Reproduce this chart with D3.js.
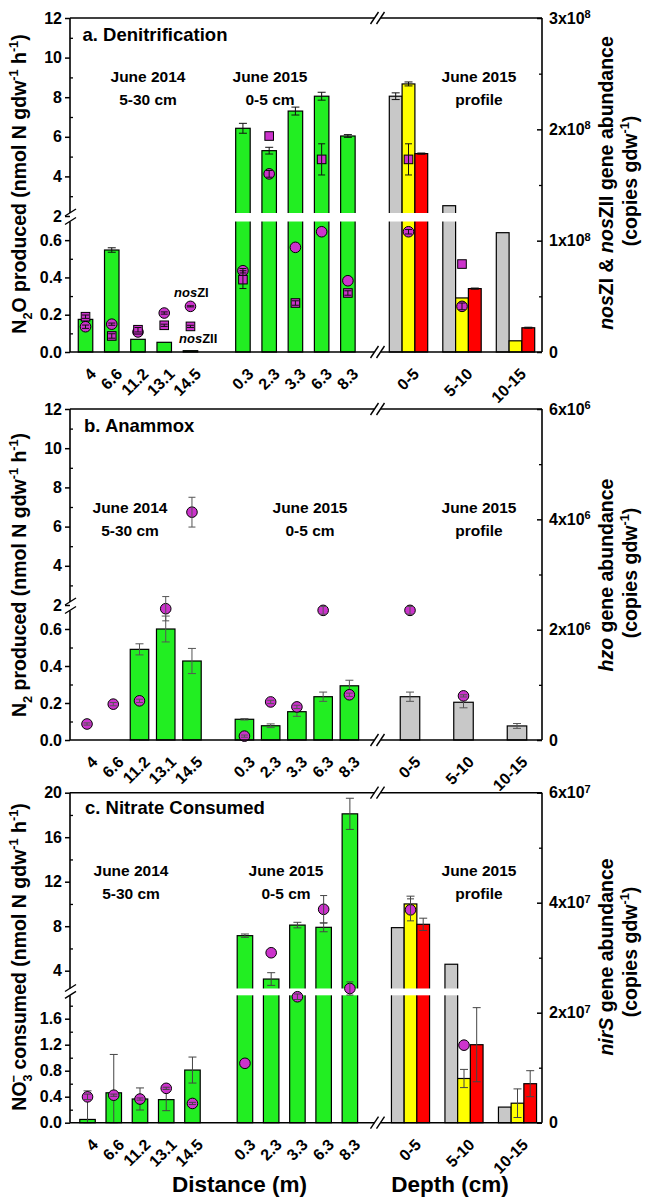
<!DOCTYPE html>
<html>
<head>
<meta charset="utf-8">
<script src="https://cdn.jsdelivr.net/npm/d3@7"></script>
<style>
body { margin: 0; background: #fff; }
svg text { font-family: Arial, "Liberation Sans", sans-serif; font-weight: bold; }
</style>
</head>
<body>
<div id="chart"></div>
<script>
// categories
var distance = ["4", "6.6", "11.2", "13.1", "14.5", "0.3", "2.3", "3.3", "6.3", "8.3"];
var slots = ["4", "6.6", "11.2", "13.1", "14.5", " ", "0.3", "2.3", "3.3", "6.3", "8.3"];
var depth = ["0-5", "5-10", "10-15"];

// a. Denitrification (N2O, nmol N gdw-1 h-1)
var denitRate = [0.175, 0.547, 0.068, 0.052, 0.007, 6.43, 5.3, 7.3, 8.05, 6.04];
var denitErr = [0.008, 0.012, 0, 0, 0, 0.25, 0.17, 0.2, 0.2, 0.07];
var denitGray = [8.05, 2.52, 0.64], denitGrayErr = [0.17, 0, 0];
var denitYellow = [8.67, 0.29, 0.06], denitYellowErr = [0.1, 0, 0];
var denitRed = [5.15, 0.34, 0.13], denitRedErr = [0.03, 0.003, 0.003];
// nosZI (circles) / nosZII (squares), copies gdw-1
var nosZI = [0.227e8, 0.25e8, 0.18e8, 0.35e8, 0.41e8, 0.73e8, 1.6e8, 0.94e8, 1.08e8, 0.64e8];
var nosZIErr = [0.015e8, 0.01e8, 0.01e8, 0.01e8, 0.005e8, 0.02e8, 0.03e8, 0, 0, 0];
var nosZIProf = [1.08e8, 0.41e8, null], nosZIProfErr = [0.02e8, 0.03e8, 0];
var nosZII = [0.317e8, 0.144e8, 0.2e8, 0.24e8, 0.23e8, 0.65e8, 1.94e8, 0.44e8, 1.73e8, 0.53e8];
var nosZIIErr = [0.015e8, 0.02e8, 0.02e8, 0.01e8, 0.01e8, 0.08e8, 0, 0.02e8, 0.14e8, 0.02e8];
var nosZIIProf = [1.73e8, 0.79e8, null], nosZIIProfErr = [0.14e8, 0, 0];

// b. Anammox (N2)
var anamRate = [null, null, 0.49, 0.6, 0.427, 0.112, 0.077, 0.153, 0.234, 0.293];
var anamErr = [0, 0, 0.03, 0.07, 0.068, 0.004, 0.01, 0.025, 0.025, 0.03];
var anamGray = [0.234, 0.204, 0.076], anamGrayErr = [0.025, 0.03, 0.013];
var hzo = [0.29e6, 0.65e6, 0.71e6, 2.38e6, 4.13e6, 0.07e6, 0.69e6, 0.6e6, 2.35e6, 0.82e6];
var hzoErr = [0.02e6, 0.03e6, 0.03e6, 0.22e6, 0.27e6, 0.02e6, 0.03e6, 0.03e6, 0.07e6, 0.03e6];
var hzoProf = [2.35e6, 0.8e6, null], hzoProfErr = [0.07e6, 0.02e6, 0];

// c. Nitrate consumed
var nitRate = [0.05, 0.46, 0.365, 0.355, 0.81, 7.15, 3.25, 8.1, 7.9, 18.1];
var nitErr = [0.44, 0.59, 0.17, 0.17, 0.2, 0.15, 0.57, 0.25, 0.4, 1.4];
var nitGray = [7.87, 4.58, 0.24], nitGrayErr = [0, 0, 0];
var nitYellow = [10.0, 0.68, 0.3], nitYellowErr = [0.7, 0.14, 0.22];
var nitRed = [8.17, 1.2, 0.6], nitRedErr = [0.55, 0.57, 0.2];
var nirS = [0.47e7, 0.5e7, 0.43e7, 0.625e7, 0.35e7, 1.08e7, 3.09e7, 2.29e7, 3.88e7, 2.44e7];
var nirSErr = [0.05e7, 0.02e7, 0.02e7, 0.02e7, 0.02e7, 0, 0, 0.05e7, 0.25e7, 0.12e7];
var nirSProf = [3.87e7, 1.41e7, null], nirSProfErr = [0.2e7, 0, 0];

// tick values
var ticksA = [0, 0.2, 0.4, 0.6, 2, 4, 6, 8, 10, 12], minorA = [0.1, 0.3, 0.5, 3, 5, 7, 9, 11];
var ticksC = [0, 0.4, 0.8, 1.2, 1.6, 4, 8, 12, 16, 20], minorC = [0.2, 0.6, 1.0, 1.4, 1.8, 6, 10, 14, 18];
var rTicksA = [0, 1e8, 2e8, 3e8], rMinorA = [0.5e8, 1.5e8, 2.5e8];
var rTicksB = [0, 2e6, 4e6, 6e6], rMinorB = [1e6, 3e6, 5e6];
var rTicksC = [0, 2e7, 4e7, 6e7], rMinorC = [1e7, 3e7, 5e7];

var green = "#22ee22", gray = "#c8c8c8", yellow = "#ffff00", red = "#ff0000", purple = "#cc33cc";

var W = 646, H = 1198, xLeft = 70, xRight = 542, breakX = 377.5;

var svg = d3.select("#chart").append("svg").attr("width", W).attr("height", H);

var xDist = d3.scaleBand().domain(slots).range([72.4, 361]);
var xDepth = d3.scaleBand().domain(depth).range([381.75, 542.25]);

// write text with sub/superscripts and italics
function richText(t, parts, size) {
  var shift = 0;
  parts.forEach(function(p) {
    var ts = t.append("tspan").text(p[0]);
    var target = 0;
    if (p[1] == "sub") target = size * 0.3;
    if (p[1] == "sup") target = -size * 0.42;
    ts.attr("dy", target - shift);
    shift = target;
    if (p[1] == "sub" || p[1] == "sup") ts.attr("font-size", size * 0.65);
    if (p[1] == "i") ts.attr("font-style", "italic");
    if (p[2]) ts.attr("dx", p[2]);
  });
}

function errBar(g, x, yTop, yBot, color, cap) {
  g.append("line").attr("x1", x).attr("x2", x).attr("y1", yTop).attr("y2", yBot)
    .attr("stroke", color).attr("stroke-width", 1);
  [yTop, yBot].forEach(function(yy) {
    g.append("line").attr("x1", x - cap / 2).attr("x2", x + cap / 2).attr("y1", yy).attr("y2", yy)
      .attr("stroke", color).attr("stroke-width", 1);
  });
}

function slash(g, x, y) {
  g.append("line").attr("x1", x - 4).attr("y1", y + 6).attr("x2", x + 4).attr("y2", y - 6)
    .attr("stroke", "#000").attr("stroke-width", 1.4);
}

function drawPanel(p) {
  var g = svg.append("g");
  var y = d3.scaleLinear().domain(p.yDomain).range(p.yRange).clamp(true);
  var yR = d3.scaleLinear().domain([0, p.rMax]).range([p.bottom, p.top]);
  var cx = function(d) { return xDist(d) + xDist.bandwidth() / 2 + p.dx; };
  var cz = function(d) { return xDepth(d) + xDepth.bandwidth() / 2 + p.dx; };

  // green bars
  var bars = distance.map(function(d, i) { return {k: d, v: p.rate[i], e: p.rateErr[i]}; })
    .filter(function(d) { return d.v != null; });
  g.selectAll(".gbar").data(bars).enter().append("rect")
    .attr("x", function(d) { return cx(d.k) - p.barW / 2; })
    .attr("y", function(d) { return y(d.v); })
    .attr("width", p.barW)
    .attr("height", function(d) { return p.bottom - y(d.v); })
    .attr("fill", green).attr("stroke", "#000").attr("stroke-width", 1.2);
  bars.forEach(function(d) {
    if (d.e > 0) errBar(g, cx(d.k), y(d.v + d.e), y(Math.max(d.v - d.e, 0)), p.errColor, 8);
  });

  // profile bars
  var n = p.prof.length;
  p.prof.forEach(function(s, j) {
    var off = (j - (n - 1) / 2) * p.profW;
    depth.forEach(function(d, i) {
      var x0 = cz(d) + off;
      g.append("rect")
        .attr("x", x0 - p.profW / 2).attr("y", y(s.v[i]))
        .attr("width", p.profW).attr("height", p.bottom - y(s.v[i]))
        .attr("fill", s.c).attr("stroke", "#000").attr("stroke-width", 1.2);
      if (s.e[i] > 0) errBar(g, x0, y(s.v[i] + s.e[i]), y(Math.max(s.v[i] - s.e[i], 0)), p.errColor, 8);
    });
  });

  // white band where the axis is broken
  g.append("rect").attr("x", xLeft + 1).attr("width", xRight - xLeft - 2)
    .attr("y", p.gap[0]).attr("height", p.gap[1] - p.gap[0]).attr("fill", "#fff");

  // gene abundance points (right axis)
  p.genes.forEach(function(s) {
    var pts = distance.map(function(d, i) { return {x: cx(d), v: s.v[i], e: s.e[i]}; })
      .concat(depth.map(function(d, i) { return {x: cz(d), v: s.pv[i], e: s.pe[i]}; }))
      .filter(function(d) { return d.v != null; });
    pts.forEach(function(d) {
      if (s.shape == "square") {
        g.append("rect").attr("x", d.x - 4.3).attr("y", yR(d.v) - 4.3).attr("width", 8.6).attr("height", 8.6)
          .attr("fill", purple).attr("stroke", "#000").attr("stroke-width", 1);
      } else {
        g.append("circle").attr("cx", d.x).attr("cy", yR(d.v)).attr("r", 5.3)
          .attr("fill", purple).attr("stroke", "#000").attr("stroke-width", 1);
      }
      if (d.e > 0) errBar(g, d.x, yR(d.v + d.e), yR(d.v - d.e), p.errColor, 7);
    });
  });

  // left axis
  var ax = g.append("g").attr("transform", "translate(" + xLeft + ",0)")
    .call(d3.axisLeft(y).tickValues(p.yMajor).tickSize(5).tickPadding(3)
      .tickFormat(function(v) { return v < p.yDomain[1] ? d3.format(".1f")(v) : v; }));
  ax.select(".domain").remove();
  ax.attr("font-size", 16).attr("font-family", null);
  ax.selectAll("line").attr("stroke-width", 1.5);
  var axm = g.append("g").attr("transform", "translate(" + xLeft + ",0)")
    .call(d3.axisLeft(y).tickValues(p.yMinor).tickSize(-3).tickFormat(""));
  axm.select(".domain").remove();
  axm.selectAll("line").attr("stroke-width", 1.3);

  // right axis
  var ar = g.append("g").attr("transform", "translate(" + xRight + ",0)")
    .call(d3.axisRight(yR).tickValues(p.rMajor).tickSize(-5).tickPadding(7));
  ar.select(".domain").remove();
  ar.attr("font-size", 16).attr("font-family", null);
  ar.selectAll("line").attr("stroke-width", 1.5);
  ar.selectAll("text").each(function(v) {
    var t = d3.select(this).text(null);
    if (v == 0) { t.text("0"); return; }
    var e = Math.floor(Math.log10(v) + 1e-9), m = Math.round(v / Math.pow(10, e));
    t.append("tspan").text(m + "x10");
    t.append("tspan").attr("dy", "-0.5em").attr("font-size", 11).text(e);
  });
  var arm = g.append("g").attr("transform", "translate(" + xRight + ",0)")
    .call(d3.axisRight(yR).tickValues(p.rMinor).tickSize(-3).tickFormat(""));
  arm.select(".domain").remove();
  arm.selectAll("line").attr("stroke-width", 1.3);

  // category axes
  [[xDist, distance], [xDepth, depth]].forEach(function(a) {
    var bx = g.append("g").attr("transform", "translate(" + p.dx + "," + p.bottom + ")")
      .call(d3.axisBottom(a[0]).tickValues(a[1]).tickSize(0));
    bx.select(".domain").remove();
    bx.attr("font-size", 16).attr("font-family", null);
    bx.selectAll("text").attr("x", 0).attr("y", 0).attr("dy", 0)
      .attr("text-anchor", "end")
      .attr("transform", "translate(11.5,23) rotate(-45)");
  });

  // frame
  var lw = 1.6;
  function seg(x1, y1, x2, y2) {
    g.append("line").attr("x1", x1).attr("y1", y1).attr("x2", x2).attr("y2", y2)
      .attr("stroke", "#000").attr("stroke-width", lw);
  }
  seg(xLeft, p.bottom, xLeft, p.gap[1]);
  seg(xLeft, p.gap[0], xLeft, p.top);
  seg(xRight, p.top, xRight, p.bottom);
  seg(xLeft, p.top, breakX - 3, p.top);
  seg(breakX + 3, p.top, xRight, p.top);
  seg(xLeft, p.bottom, breakX - 3, p.bottom);
  seg(breakX + 3, p.bottom, xRight, p.bottom);
  slash(g, breakX - 3, p.top); slash(g, breakX + 3, p.top);
  slash(g, breakX - 3, p.bottom); slash(g, breakX + 3, p.bottom);
  g.append("line").attr("x1", xLeft - 5).attr("y1", p.gap[0] + 3).attr("x2", xLeft + 6).attr("y2", p.gap[0] - 4)
    .attr("stroke", "#000").attr("stroke-width", 1.4);
  g.append("line").attr("x1", xLeft - 5).attr("y1", p.gap[1] + 3).attr("x2", xLeft + 6).attr("y2", p.gap[1] - 4)
    .attr("stroke", "#000").attr("stroke-width", 1.4);

  // panel label and group texts
  g.append("text").attr("x", p.label[1]).attr("y", p.label[2]).attr("font-size", 18.5).text(p.label[0]);
  p.groups.forEach(function(t) {
    g.append("text").attr("x", t[0]).attr("y", p.groupY).attr("text-anchor", "middle")
      .attr("font-size", 15.5).text(t[1]);
    g.append("text").attr("x", t[0]).attr("y", p.groupY + 22.5).attr("text-anchor", "middle")
      .attr("font-size", 15.5).text(t[2]);
  });

  // axis titles
  var lt = g.append("text").attr("transform", "translate(26," + p.leftTitleY + ") rotate(-90)")
    .attr("text-anchor", "middle").attr("font-size", 19.5);
  richText(lt, p.leftTitle, 19.5);
  var rt1 = g.append("text").attr("transform", "translate(613," + p.rightTitleY[0] + ") rotate(-90)")
    .attr("text-anchor", "middle").attr("font-size", 19.5);
  richText(rt1, p.rightTitle, 19.5);
  var rt2 = g.append("text").attr("transform", "translate(637," + p.rightTitleY[1] + ") rotate(-90)")
    .attr("text-anchor", "middle").attr("font-size", 19.5);
  richText(rt2, [["(copies gdw", "n"], ["-1", "sup"], [")", "n"]], 19.5);

  return g;
}

var unitsTail = [["(nmol N gdw", "n"], ["-1", "sup"], [" h", "n"], ["-1", "sup"], [")", "n"]];

var pa = drawPanel({
  top: 18, bottom: 352, dx: 0,
  yDomain: [0, 0.7, 2, 12], yRange: [352, 221.5, 216, 18], gap: [213, 221.5],
  yMajor: ticksA, yMinor: minorA,
  rMax: 3e8, rMajor: rTicksA, rMinor: rMinorA,
  rate: denitRate, rateErr: denitErr, barW: 14.5, errColor: "#111",
  prof: [{v: denitGray, e: denitGrayErr, c: gray}, {v: denitYellow, e: denitYellowErr, c: yellow},
         {v: denitRed, e: denitRedErr, c: red}], profW: 12.8,
  genes: [{v: nosZI, e: nosZIErr, pv: nosZIProf, pe: nosZIProfErr, shape: "circle"},
          {v: nosZII, e: nosZIIErr, pv: nosZIIProf, pe: nosZIIProfErr, shape: "square"}],
  label: ["a. Denitrification", 82.5, 41],
  groups: [[148, "June 2014", "5-30 cm"], [270, "June 2015", "0-5 cm"], [479, "June 2015", "profile"]],
  groupY: 82,
  leftTitle: [["N", "n"], ["2", "sub"], ["O produced ", "n"]].concat(unitsTail), leftTitleY: 184,
  rightTitle: [["nos", "i"], ["ZI & ", "n"], ["nos", "i"], ["ZII gene abundance", "n"]], rightTitleY: [183, 181]
});

// species labels next to the 14.5 points
var t1 = pa.append("text").attr("x", 174).attr("y", 297).attr("font-size", 13);
richText(t1, [["nos", "i"], ["ZI", "n"]], 13);
var t2 = pa.append("text").attr("x", 179).attr("y", 342.5).attr("font-size", 13);
richText(t2, [["nos", "i"], ["ZII", "n"]], 13);

drawPanel({
  top: 409, bottom: 740, dx: 1.5,
  yDomain: [0, 0.7, 2, 12], yRange: [740, 610.5, 605, 409], gap: [602, 610.5],
  yMajor: ticksA, yMinor: minorA,
  rMax: 6e6, rMajor: rTicksB, rMinor: rMinorB,
  rate: anamRate, rateErr: anamErr, barW: 18.5, errColor: "#555",
  prof: [{v: anamGray, e: anamGrayErr, c: gray}], profW: 19.5,
  genes: [{v: hzo, e: hzoErr, pv: hzoProf, pe: hzoProfErr, shape: "circle"}],
  label: ["b. Anammox", 84, 432],
  groups: [[130, "June 2014", "5-30 cm"], [310, "June 2015", "0-5 cm"], [479, "June 2015", "profile"]],
  groupY: 513,
  leftTitle: [["N", "n"], ["2", "sub"], [" produced ", "n"]].concat(unitsTail), leftTitleY: 575,
  rightTitle: [["hzo", "i"], [" gene abundance", "n"]], rightTitleY: [575, 573]
});

drawPanel({
  top: 792.7, bottom: 1122.7, dx: 2,
  yDomain: [0, 1.96, 2.4, 20], yRange: [1122.7, 995.3, 988.5, 792.7], gap: [988.5, 995.3],
  yMajor: ticksC, yMinor: minorC,
  rMax: 6e7, rMajor: rTicksC, rMinor: rMinorC,
  rate: nitRate, rateErr: nitErr, barW: 15.5, errColor: "#444",
  prof: [{v: nitGray, e: nitGrayErr, c: gray}, {v: nitYellow, e: nitYellowErr, c: yellow},
         {v: nitRed, e: nitRedErr, c: red}], profW: 12.7,
  genes: [{v: nirS, e: nirSErr, pv: nirSProf, pe: nirSProfErr, shape: "circle"}],
  label: ["c. Nitrate Consumed", 85, 813.5],
  groups: [[131, "June 2014", "5-30 cm"], [286, "June 2015", "0-5 cm"], [479, "June 2015", "profile"]],
  groupY: 876,
  leftTitle: [["NO", "n"], ["3", "sub"], ["\u2212", "sup", -8], [" consumed ", "n"]].concat(unitsTail), leftTitleY: 957,
  rightTitle: [["nirS", "i"], [" gene abundance", "n"]], rightTitleY: [957, 952]
});

// bottom titles
svg.append("text").attr("x", 239.5).attr("y", 1192).attr("text-anchor", "middle").attr("font-size", 22.5).text("Distance (m)");
svg.append("text").attr("x", 450).attr("y", 1192).attr("text-anchor", "middle").attr("font-size", 22.5).text("Depth (cm)");
</script>
</body>
</html>
